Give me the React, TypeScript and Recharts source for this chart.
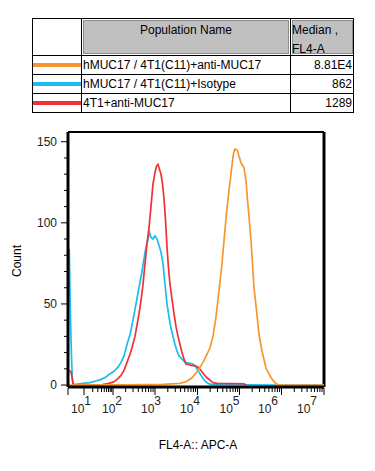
import React from 'react';
import { LineChart, Line, XAxis, YAxis, ReferenceLine } from 'recharts';

const FONT = '"Liberation Sans", Arial, Helvetica, sans-serif';

// Populations (legend table)
const seriesNames = ['hMUC17 / 4T1(C11)+anti-MUC17', 'hMUC17 / 4T1(C11)+Isotype', '4T1+anti-MUC17'];
const seriesMedians = ['8.81E4', '862', '1289'];
const seriesColors = ['#F7962F', '#1BBDEF', '#EF3038'];

// Histogram: display channel (0..256 across the FL4-A axis) and cell count
const antiMucChannels = [0, 60, 95, 112, 118, 124, 130, 135, 139, 142, 145, 148, 151, 154, 156, 158.5, 161, 163.5, 165.5, 167, 169.5, 171, 173, 176, 178, 179.5, 181, 183, 184.5, 186, 188.5, 191, 194, 198, 203, 208, 212, 256];
const antiMucCounts = [0, 0.2, 0.4, 1, 2, 4.5, 9, 14, 19, 23, 30, 42, 58, 75, 89, 106, 120, 133, 143, 145.5, 144.5, 141, 137, 134, 126, 114, 104, 89, 75, 60, 46, 31, 21, 10.5, 4.5, 0.8, 0, 0];

const isotypeChannels = [1.2, 2.3, 3, 3.7, 4.3, 5, 8, 15, 22, 28, 33, 38, 42, 46, 50, 53, 56, 59, 62, 65, 68, 71, 74, 76, 78, 80, 81.5, 83, 85, 87, 89, 91, 93, 95, 97, 99, 101, 103, 105, 107, 109, 111, 114, 117, 121, 125, 128, 131, 134, 137, 140, 144, 180, 210, 256];
const isotypeCounts = [84, 47, 28, 14, 4, 0.5, 0.5, 1, 1.5, 2.5, 3.5, 5, 7, 8.5, 11, 14, 18, 25, 31, 40, 50, 60, 70, 78, 85, 90, 94, 91, 90, 92, 90, 86, 82, 75, 62, 50, 42, 35, 30, 25, 21, 18, 16, 14, 13.5, 13, 11, 8, 5, 2.5, 1, 0.3, 0.2, 0, 0];

const parentalChannels = [1.2, 3, 4, 5, 6, 33, 36, 41, 46, 50, 53, 56, 59, 62, 64, 67, 69, 71, 73, 75, 77, 79, 81, 83, 85, 87, 88.5, 90, 91.5, 93, 94.5, 96, 97.5, 99, 100.5, 102, 104, 106, 108, 110, 112, 114, 116, 118, 121, 124, 127, 130, 133, 136, 139, 142, 145, 149, 176, 178];
const parentalCounts = [9, 8, 5, 1, 0, 0, 0.5, 1, 2, 4, 6, 9, 14, 19, 23, 30, 37, 44, 52, 62, 75, 87, 97, 110, 124, 131, 135, 136, 133, 130, 124, 115, 102, 85, 72, 62, 53, 44, 36, 30, 25, 20, 16, 13, 12.5, 12, 12, 11, 9, 6.5, 4.5, 3, 1.5, 1, 0.8, 0];

// Axis ticks
const decadeExponents = [1, 2, 3, 4, 5, 6, 7];
const decadeChannels = [16, 45, 87, 129.5, 171.5, 213.5, 256];
const decadeLabelChannels = [13, 44, 83, 122, 161.5, 200, 239];
const countTicks = [0, 10, 20, 30, 40, 50, 60, 70, 80, 90, 100, 110, 120, 130, 140, 150];
const countLabelTicks = [0, 50, 100, 150];

const toData = (ch: number[], cnt: number[]) => ch.map((c, i) => ({ ch: c, count: cnt[i] }));
const antiMucData = toData(antiMucChannels, antiMucCounts);
const isotypeData = toData(isotypeChannels, isotypeCounts);
const parentalData = toData(parentalChannels, parentalCounts);

const minorChannels: number[] = [];
for (let i = 0; i < decadeChannels.length - 1; i++) {
  const a = decadeChannels[i];
  const b = decadeChannels[i + 1];
  for (let k = 2; k <= 9; k++) minorChannels.push(a + (b - a) * Math.log10(k));
}
const xTicks = [0, ...decadeChannels, ...minorChannels, ...decadeLabelChannels];

const XTick = (props: any) => {
  const { x, y, payload } = props;
  const v = payload.value;
  const li = decadeLabelChannels.indexOf(v);
  if (li >= 0) {
    return (
      <text x={x} y={y + 26} textAnchor="middle" fontFamily={FONT} fontSize={12} fill="#222">
        <tspan>10</tspan>
        <tspan dy={-8}>{decadeExponents[li]}</tspan>
      </text>
    );
  }
  const major = v === 0 || decadeChannels.indexOf(v) >= 0;
  return <line x1={x} x2={x} y1={y + 1} y2={y + (major ? 8 : 5)} stroke="#000" strokeWidth={1} />;
};

const YTick = (props: any) => {
  const { x, y, payload } = props;
  const v = payload.value;
  const major = countLabelTicks.indexOf(v) >= 0;
  return (
    <g>
      <line x1={x - 1} x2={x - (major ? 7 : 4)} y1={y} y2={y} stroke="#000" strokeWidth={1} />
      {major && (
        <text x={x - 11} y={y + 4} textAnchor="end" fontFamily={FONT} fontSize={12} fill="#222">
          {v}
        </text>
      )}
    </g>
  );
};

const cell: React.CSSProperties = { position: 'absolute', fontFamily: FONT, fontSize: 12, color: '#000', whiteSpace: 'nowrap' };
const rowCenters = [64.5, 83.5, 103];

export default function App() {
  return (
    <div style={{ position: 'absolute', left: 0, top: 0, width: 375, height: 471, background: '#fff', overflow: 'hidden' }}>
      {/* legend table */}
      <div style={{ position: 'absolute', left: 32, top: 18, width: 322, height: 95, border: '1px solid #000', boxSizing: 'border-box' }} />
      <div style={{ position: 'absolute', left: 81, top: 18, width: 1, height: 95, background: '#000' }} />
      <div style={{ position: 'absolute', left: 290, top: 18, width: 1, height: 95, background: '#000' }} />
      <div style={{ position: 'absolute', left: 32, top: 55, width: 322, height: 1, background: '#000' }} />
      <div style={{ position: 'absolute', left: 32, top: 74, width: 322, height: 1, background: '#000' }} />
      <div style={{ position: 'absolute', left: 32, top: 93, width: 322, height: 1, background: '#000' }} />
      <div style={{ position: 'absolute', left: 83, top: 20, width: 206, height: 34, background: '#c0c0c0', border: '1px solid #8c8c8c', boxSizing: 'border-box' }} />
      <div style={{ position: 'absolute', left: 292, top: 20, width: 61, height: 34, background: '#c0c0c0', border: '1px solid #8c8c8c', boxSizing: 'border-box' }} />
      <div style={{ ...cell, left: 83, width: 206, top: 22, height: 16, lineHeight: '16px', textAlign: 'center' }}>Population Name</div>
      <div style={{ ...cell, left: 292, top: 22, height: 16, lineHeight: '16px' }}>Median ,</div>
      <div style={{ ...cell, left: 292, top: 41, height: 16, lineHeight: '16px' }}>FL4-A</div>
      {seriesNames.map((name, i) => (
        <React.Fragment key={name}>
          <div style={{ position: 'absolute', left: 33, top: rowCenters[i] - 2, width: 48, height: 4, background: seriesColors[i] }} />
          <div style={{ ...cell, left: 83, top: rowCenters[i] - 8, height: 16, lineHeight: '16px' }}>{name}</div>
          <div style={{ ...cell, left: 292, width: 60, top: rowCenters[i] - 8, height: 16, lineHeight: '16px', textAlign: 'right' }}>{seriesMedians[i]}</div>
        </React.Fragment>
      ))}

      {/* histogram */}
      <div style={{ position: 'absolute', left: 0, top: 0 }}>
        <LineChart width={375} height={471} margin={{ top: 132, right: 51, bottom: 46, left: 28 }}>
          <XAxis
            dataKey="ch"
            type="number"
            domain={[0, 256]}
            ticks={xTicks}
            interval={0}
            tick={<XTick />}
            tickLine={false}
            tickSize={0}
            tickMargin={0}
            height={38}
            axisLine={{ stroke: '#000', strokeWidth: 3 }}
            allowDataOverflow
          />
          <YAxis
            type="number"
            dataKey="count"
            domain={[-1.2, 156]}
            ticks={countTicks}
            interval={0}
            tick={<YTick />}
            tickLine={false}
            tickSize={0}
            tickMargin={0}
            width={40}
            axisLine={{ stroke: '#000', strokeWidth: 3 }}
            allowDataOverflow
          />
          <ReferenceLine y={156} stroke="#000" strokeWidth={2} />
          <ReferenceLine x={256} stroke="#000" strokeWidth={3} />
          <Line data={isotypeData} dataKey="count" type="linear" stroke={seriesColors[1]} strokeWidth={1.7} dot={false} isAnimationActive={false} />
          <Line data={parentalData} dataKey="count" type="linear" stroke={seriesColors[2]} strokeWidth={1.7} dot={false} isAnimationActive={false} />
          <Line data={antiMucData} dataKey="count" type="linear" stroke={seriesColors[0]} strokeWidth={1.7} dot={false} isAnimationActive={false} />
        </LineChart>
      </div>

      <div style={{ ...cell, left: 0, top: 437, width: 396, textAlign: 'center', height: 16, lineHeight: '16px' }}>FL4-A:: APC-A</div>
      <div style={{ ...cell, left: 17 - 30, top: 261 - 8, width: 60, height: 16, lineHeight: '16px', textAlign: 'center', transform: 'rotate(-90deg)' }}>Count</div>
    </div>
  );
}
